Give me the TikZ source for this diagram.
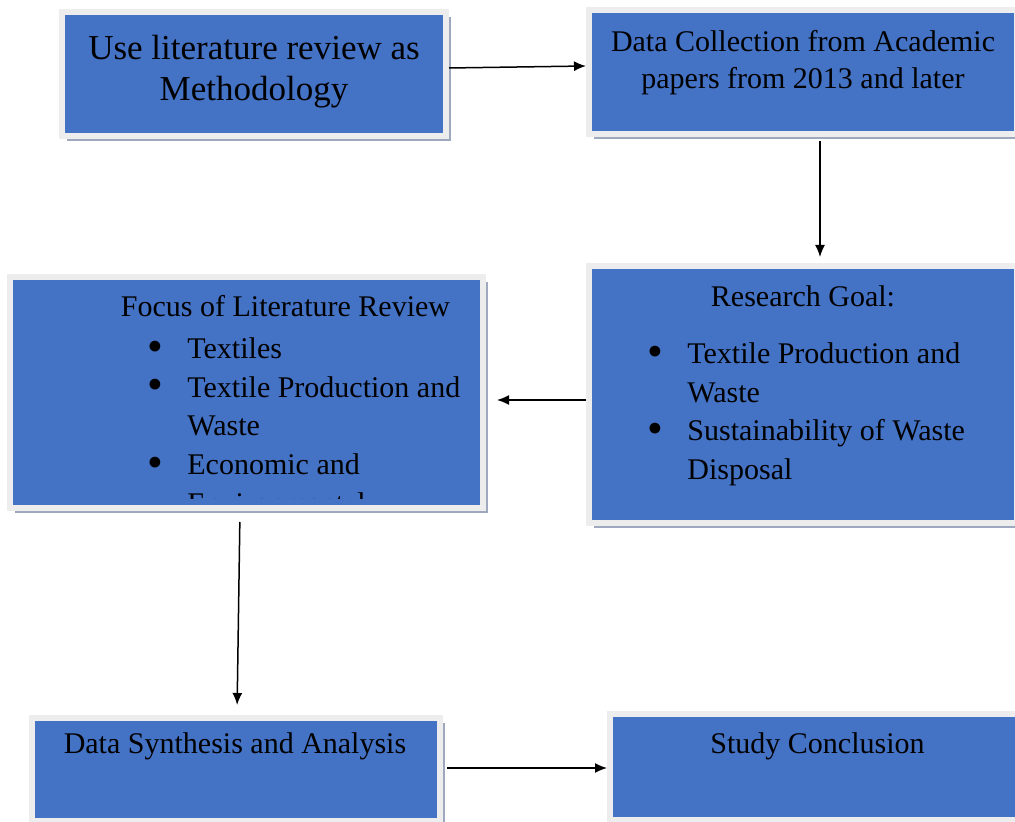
\documentclass[tikz,border=0pt]{standalone}
\usepackage{fontspec}
\setmainfont{Liberation Serif}
\usetikzlibrary{arrows.meta,shadows}
\definecolor{boxblue}{HTML}{4472C4}
\definecolor{boxrim}{HTML}{EDEDED}
\definecolor{boxshade}{HTML}{9EA8BF}
\newcommand{\itm}[1]{\makebox[18.5pt][l]{\hspace*{-1.5pt}\smash{\raisebox{-1.3pt}{\scalebox{1.5}{\textbullet}}}}#1}
\newcommand{\cnt}[1]{\hspace*{18.5pt}#1}

\begin{document}
\begin{tikzpicture}[x=0.5pt,y=-0.5pt,font={\fontsize{15pt}{19.3pt}\selectfont},
  box/.style={rectangle,fill=boxblue,draw=boxrim,line width=3pt,inner sep=0pt,
    drop shadow={shadow xshift=2.5pt,shadow yshift=-2.5pt,fill=boxshade,opacity=1}},
  txt/.style={inner sep=0pt,text=black},
  arr/.style={-{Latex[length=6pt,width=5pt]},line width=0.75pt}]
\useasboundingbox (0,0) rectangle (1015,822);
\foreach \n/\x/\y/\w/\h in {method/254/74/378/118,collect/803/72/422/118,goal/803/394.5/422/251,
  focus/246.5/392.5/467/225,synth/236/769.5/402/97,concl/817.5/767/409/100}{
  \node[box,minimum width={(\w+6)*0.5pt},minimum height={(\h+6)*0.5pt}] (\n) at (\x,\y) {};
}
\node[txt,anchor=north,align=center,font={\fontsize{17.5pt}{20.5pt}\selectfont}] (methodtxt) at (254,34.5) {Use literature review as\\Methodology};
\node[txt,anchor=north,align=center,font={\fontsize{15pt}{18.5pt}\selectfont}] (collecttxt) at (803,29.5) {Data Collection from Academic\\papers from 2013 and later};
\node[txt,anchor=north] (goaltitle) at (803,285.5) {Research Goal:};
\node[txt,anchor=north west,align=left] (goallist) at (650,342.5) {\itm{Textile Production and}\\\cnt{Waste}\\\itm{Sustainability of Waste}\\\cnt{Disposal}};
\node[txt,anchor=north] (focustitle) at (285.5,294.5) {Focus of Literature Review};
\begin{scope}
\clip (13,280) rectangle (480,498);
\node[txt,anchor=north west,align=left] (focuslist) at (150,337.5) {\itm{Textiles}\\\itm{Textile Production and}\\\cnt{Waste}\\\itm{Economic and}\\\cnt{Environmental}};
\end{scope}
\node[txt,anchor=base] (synthtxt) at (235,753) {Data Synthesis and Analysis};
\node[txt,anchor=base] (concltxt) at (817.5,753) {Study Conclusion};

\draw[arr] ([yshift=3pt]method.east) -- ([yshift=3pt]collect.west);
\draw[arr,shorten <=2pt,shorten >=3pt] ([xshift=8.5pt]collect.south) -- ([xshift=8.5pt]goal.north);
\draw[arr,shorten >=5.5pt] ([yshift=-2.75pt]goal.west) -- ([yshift=-3.75pt]focus.east);
\draw[arr,shorten <=5.5pt,shorten >=5pt] ([xshift=-3.25pt]focus.south) -- ([xshift=0.5pt]synth.north);
\draw[arr,shorten <=2pt] ([yshift=0.75pt]synth.east) -- ([yshift=-0.5pt]concl.west);
\end{tikzpicture}
\end{document}
